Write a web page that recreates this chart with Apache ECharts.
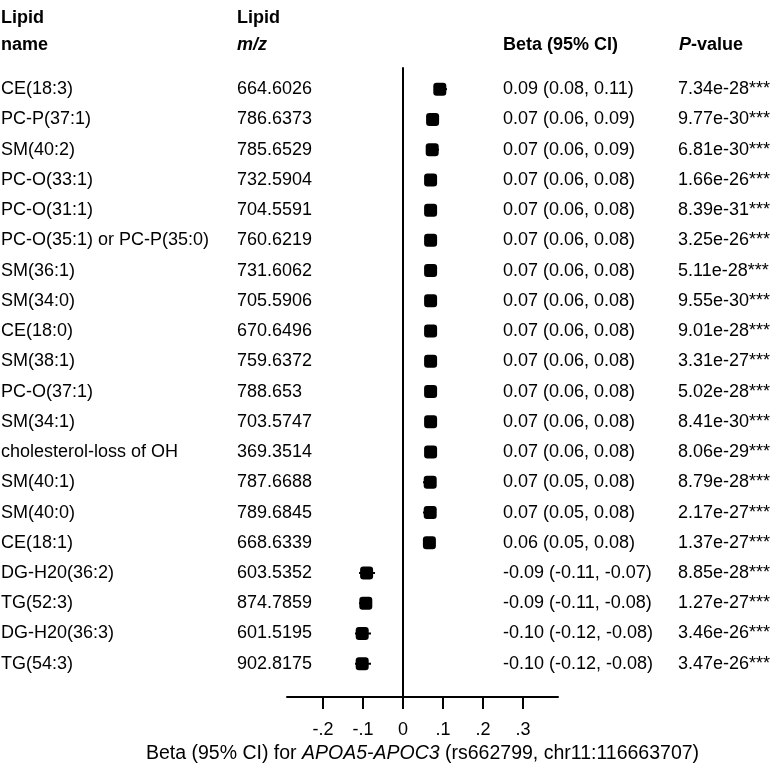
<!DOCTYPE html>
<html>
<head>
<meta charset="utf-8">
<script src="https://cdn.jsdelivr.net/npm/echarts@6/dist/echarts.min.js"></script>
<style>
html,body{margin:0;padding:0;background:#fff;}
#chart{width:776px;height:769px;}
</style>
</head>
<body>
<div id="chart"></div>
<script>
// ---- data ----
var lipidNames = ['CE(18:3)','PC-P(37:1)','SM(40:2)','PC-O(33:1)','PC-O(31:1)','PC-O(35:1) or PC-P(35:0)','SM(36:1)','SM(34:0)','CE(18:0)','SM(38:1)','PC-O(37:1)','SM(34:1)','cholesterol-loss of OH','SM(40:1)','SM(40:0)','CE(18:1)','DG-H20(36:2)','TG(52:3)','DG-H20(36:3)','TG(54:3)'];
var lipidMz = ['664.6026','786.6373','785.6529','732.5904','704.5591','760.6219','731.6062','705.5906','670.6496','759.6372','788.653','703.5747','369.3514','787.6688','789.6845','668.6339','603.5352','874.7859','601.5195','902.8175'];
var betaText = ['0.09 (0.08, 0.11)','0.07 (0.06, 0.09)','0.07 (0.06, 0.09)','0.07 (0.06, 0.08)','0.07 (0.06, 0.08)','0.07 (0.06, 0.08)','0.07 (0.06, 0.08)','0.07 (0.06, 0.08)','0.07 (0.06, 0.08)','0.07 (0.06, 0.08)','0.07 (0.06, 0.08)','0.07 (0.06, 0.08)','0.07 (0.06, 0.08)','0.07 (0.05, 0.08)','0.07 (0.05, 0.08)','0.06 (0.05, 0.08)','-0.09 (-0.11, -0.07)','-0.09 (-0.11, -0.08)','-0.10 (-0.12, -0.08)','-0.10 (-0.12, -0.08)'];
var pValues = ['7.34e-28***','9.77e-30***','6.81e-30***','1.66e-26***','8.39e-31***','3.25e-26***','5.11e-28***','9.55e-30***','9.01e-28***','3.31e-27***','5.02e-28***','8.41e-30***','8.06e-29***','8.79e-28***','2.17e-27***','1.37e-27***','8.85e-28***','1.27e-27***','3.46e-26***','3.47e-26***'];
var beta = [0.092,0.074,0.073,0.069,0.069,0.069,0.069,0.069,0.069,0.069,0.069,0.069,0.069,0.068,0.068,0.066,-0.091,-0.093,-0.102,-0.102];
var ciLow = [0.08,0.06,0.06,0.06,0.06,0.06,0.06,0.06,0.06,0.06,0.06,0.06,0.06,0.05,0.05,0.05,-0.11,-0.11,-0.12,-0.12];
var ciHigh = [0.11,0.09,0.09,0.08,0.08,0.08,0.08,0.08,0.08,0.08,0.08,0.08,0.08,0.08,0.08,0.08,-0.07,-0.08,-0.08,-0.08];
var xTicks = [-0.2,-0.1,0,0.1,0.2,0.3];
var xTickLabels = ['-.2','-.1','0','.1','.2','.3'];

// ---- chart ----
var FONT = '"Liberation Sans", Arial, Helvetica, sans-serif';
var FS = 18;
var TFS = 19.5;
var chart = echarts.init(document.getElementById('chart'), null, {renderer:'canvas'});

var pointData = beta.map(function(b,i){ return [b, i]; });
var ciData = beta.map(function(b,i){ return [ciLow[i], ciHigh[i], i]; });
var rowData = lipidNames.map(function(n,i){ return [0, i]; });

var colX = [1, 237, 503, 678];

var option = {
  animation: false,
  backgroundColor: '#fff',
  grid: {left: 287, right: 218, top: 68, bottom: 69, containLabel: false},
  xAxis: {
    type: 'value', min: -0.29, max: 0.3875,
    splitLine: {show: false},
    axisLine: {show: true, onZero: false, lineStyle: {color: '#000', width: 2}},
    axisTick: {show: true, length: 12, lineStyle: {color: '#000', width: 2}, customValues: xTicks},
    axisLabel: {customValues: xTicks, color: '#000', fontSize: FS, fontFamily: FONT, margin: 24,
      formatter: function(v){ var k = xTicks.findIndex(function(t){return Math.abs(t-v)<1e-9;}); return k>=0 ? xTickLabels[k] : ''; }},
    name: '{n|Beta (95% CI) for }{i|APOA5-APOC3}{n| (rs662799, chr11:116663707)}',
    nameLocation: 'middle', nameGap: 47,
    nameTextStyle: {color:'#000', fontSize: TFS, fontFamily: FONT,
      rich: {n: {color:'#000', fontSize: TFS, fontFamily: FONT}, i: {color:'#000', fontSize: TFS, fontFamily: FONT, fontStyle:'italic'}}}
  },
  yAxis: {
    type: 'value', inverse: true, min: -0.7, max: 20.1,
    splitLine: {show: false},
    axisLine: {show: true, onZero: true, lineStyle: {color: '#000', width: 2}},
    axisTick: {show: false}, axisLabel: {show: false}
  },
  series: [
    {
      type: 'custom',
      data: ciData,
      encode: {x: [0,1], y: 2},
      renderItem: function(params, api){
        var p1 = api.coord([api.value(0), api.value(2)]);
        var p2 = api.coord([api.value(1), api.value(2)]);
        return {type:'line', shape:{x1:p1[0], y1:p1[1], x2:p2[0], y2:p2[1]}, style:{stroke:'#000', lineWidth:2}};
      },
      z: 2
    },
    {
      type: 'scatter',
      data: pointData,
      symbol: 'roundRect',
      symbolSize: 13,
      itemStyle: {color: '#000', opacity: 1},
      z: 3
    },
    {
      type: 'custom',
      data: rowData,
      encode: {x: 0, y: 1},
      clip: false,
      renderItem: function(params, api){
        var i = params.dataIndex;
        var y = api.coord([0, api.value(1)])[1];
        var texts = [lipidNames[i], lipidMz[i], betaText[i], pValues[i]];
        return {
          type: 'group',
          children: texts.map(function(t, k){
            return {type:'text', x: colX[k], y: y,
              style:{text: t, fill:'#000', font: FS + 'px ' + FONT, textAlign:'left', textVerticalAlign:'middle'}};
          })
        };
      },
      z: 4
    }
  ],
  graphic: [
    {type:'text', left: 1, top: 9, style:{text:'Lipid', fill:'#000', font:'bold ' + FS + 'px ' + FONT}},
    {type:'text', left: 1, top: 36, style:{text:'name', fill:'#000', font:'bold ' + FS + 'px ' + FONT}},
    {type:'text', left: 237, top: 9, style:{text:'Lipid', fill:'#000', font:'bold ' + FS + 'px ' + FONT}},
    {type:'text', left: 237, top: 36, style:{text:'m/z', fill:'#000', font:'italic bold ' + FS + 'px ' + FONT}},
    {type:'text', left: 503, top: 36, style:{text:'Beta (95% CI)', fill:'#000', font:'bold ' + FS + 'px ' + FONT}},
    {type:'text', left: 679, top: 36, style:{text:'{i|P}{b|-value}', fill:'#000', font:'bold ' + FS + 'px ' + FONT,
      rich:{i:{fontStyle:'italic', fontWeight:'bold', fontSize: FS, fontFamily: FONT, fill:'#000'}, b:{fontWeight:'bold', fontSize: FS, fontFamily: FONT, fill:'#000'}}}}
  ]
};
chart.setOption(option);
</script>
</body>
</html>
